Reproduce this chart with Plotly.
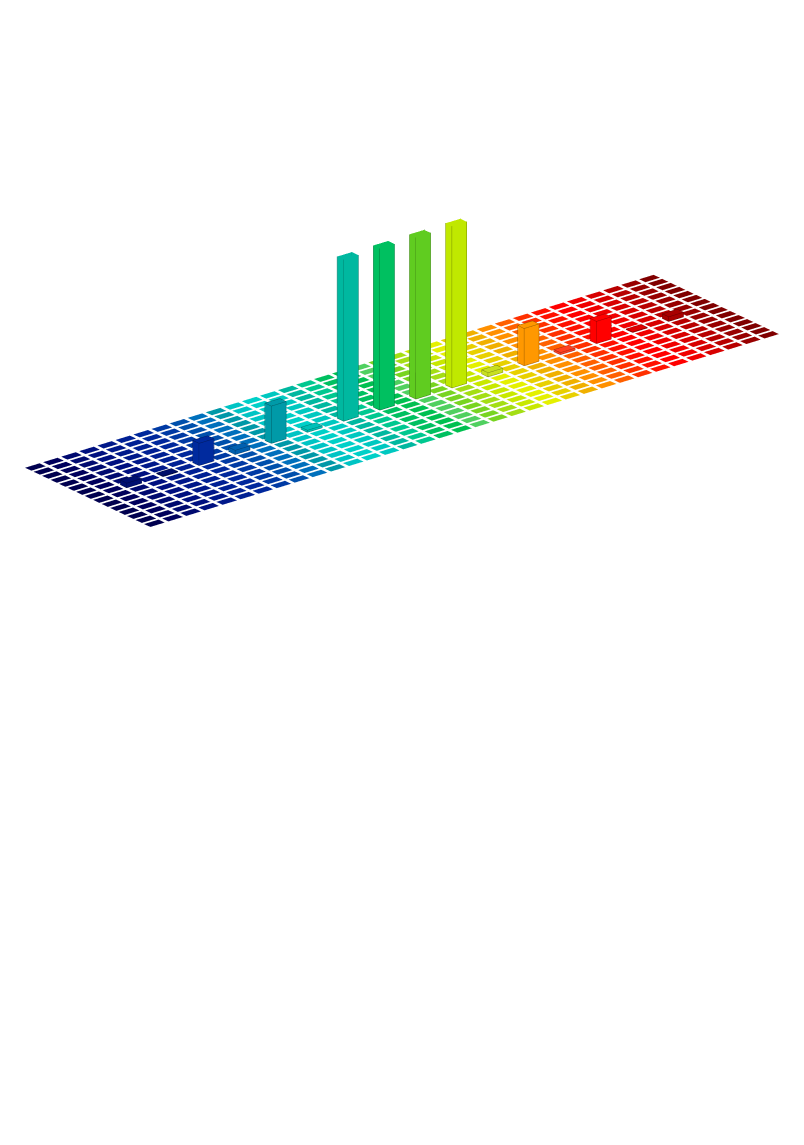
import plotly.graph_objects as go

n_cols = 35
n_rows = 15
cell_colors = ["#00004f","#00005c","#000a70","#001080","#00188a","#002094","#00289c","#003aa4",
"#0050ac","#0070bc","#0098a8","#00c4c4","#00d0c8","#00c8c0","#00b8a0","#00c890","#00c060","#00c050",
"#50d060","#78d420","#a4de14","#c8e800","#e4f000","#e8d000","#f0b000","#ff9000","#ff6000","#ff3000",
"#ff1000","#ff0000","#f00000","#d80000","#b80000","#980000","#800000"]
bar_cols = [2,4,6,8,10,12,14,16,18,20,22,24,26,28,30,32]
bar_colors = ["#001070","#000f6a","#002a9e","#0060b0","#009aa8","#00c0b8","#00b8a0","#00c060",
"#60cc20","#c0e800","#c8e020","#ff9800","#ff4020","#ff0000","#e00000","#a80000"]
bar_row = 7
bar_heights = [0.028,0.003,0.137,0.025,0.23,0.012,1.0,1.0,1.0,1.0,0.025,0.23,0.012,0.137,0.003,0.028]
cell_w, cell_d = 0.8, 0.73
edge_pad = 0.012

def darker(hex_color, f=0.62):
    r, g, b = (int(hex_color[i:i+2], 16) for i in (1, 3, 5))
    return "rgb(%d,%d,%d)" % (r*f, g*f, b*f)

xs, ys, zs, ii, jj, kk, fc = [], [], [], [], [], [], []
ex, ey, ez, ec = [], [], [], []

def add_box(c, r, h, color):
    x0, x1 = c + (1-cell_w)/2, c + (1+cell_w)/2
    y0, y1 = r + (1-cell_d)/2, r + (1+cell_d)/2
    b = len(xs)
    for z in (0, h):
        for x, y in ((x0,y0),(x1,y0),(x1,y1),(x0,y1)):
            xs.append(x); ys.append(y); zs.append(z)
    faces = [(4,5,6),(4,6,7)]
    if h > 0:
        faces += [(0,1,5),(0,5,4),(1,2,6),(1,6,5),(2,3,7),(2,7,6),(3,0,4),(3,4,7)]
    for a,bb,cc in faces:
        ii.append(b+a); jj.append(b+bb); kk.append(b+cc); fc.append(color)
    if h > 0:
        line = darker(color)
        for p in [(0,1),(1,2),(2,3),(3,0),(4,5),(5,6),(6,7),(7,4),(0,4),(1,5),(2,6),(3,7)]:
            for q in p:
                ex.append(xs[b+q] + (edge_pad if xs[b+q] == x1 else -edge_pad))
                ey.append(ys[b+q] + (edge_pad if ys[b+q] == y1 else -edge_pad))
                ez.append(zs[b+q] + (0.001 if zs[b+q] > 0 else 0.0005))
                ec.append(line)
            ex.append(None); ey.append(None); ez.append(None); ec.append(line)

bars = {c: (h, col) for c, h, col in zip(bar_cols, bar_heights, bar_colors)}
for c in range(n_cols):
    for r in range(n_rows):
        if r == bar_row and c in bars:
            add_box(c, r, bars[c][0], bars[c][1])
        else:
            add_box(c, r, 0, cell_colors[c])

fig = go.Figure()
fig.add_trace(go.Mesh3d(x=xs, y=ys, z=zs, i=ii, j=jj, k=kk, facecolor=fc, flatshading=True,
    lighting=dict(ambient=1, diffuse=0, specular=0, roughness=1, fresnel=0), hoverinfo="skip"))
fig.add_trace(go.Scatter3d(x=ex, y=ey, z=ez, mode="lines", line=dict(color=ec, width=1), hoverinfo="skip"))

ax = dict(visible=False, showgrid=False, zeroline=False, showbackground=False)
k = 2.57
cx, cy, cz = 0.0194, -0.0157, -0.0304
fig.update_layout(width=804, height=1145, margin=dict(l=0,r=0,t=0,b=0), showlegend=False,
    paper_bgcolor="white",
    scene=dict(xaxis=dict(range=[0,n_cols],**ax), yaxis=dict(range=[0,n_rows],**ax), zaxis=dict(range=[0,1],**ax),
        aspectmode="manual", aspectratio=dict(x=0.984*k,y=0.2464*k,z=0.2122*k),
        domain=dict(x=[0,1],y=[0.439,1]),
        camera=dict(projection=dict(type="orthographic"), up=dict(x=0,y=0,z=1), center=dict(x=cx,y=cy,z=cz),
            eye=dict(x=-0.58*4+cx,y=-0.72*4+cy,z=0.381*4+cz))))
fig.write_html("out.html")
